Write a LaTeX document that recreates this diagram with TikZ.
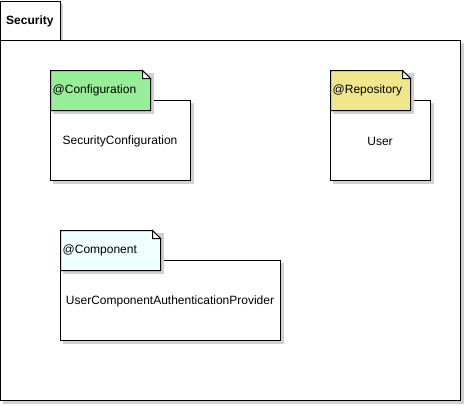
\documentclass[tikz,border=0pt]{standalone}
\usepackage{fontspec}
\setmainfont{Liberation Sans}
\begin{document}
\begin{tikzpicture}[x=1pt,y=-1pt,
  outline/.style={draw=black,line width=1pt},
  shade/.style={fill=black!18,draw=none},
  lbl/.style={inner sep=0pt,font=\fontsize{12}{14}\selectfont},
]
\useasboundingbox (0,0) rectangle (465,405);
% package
\fill[shade] (3,4) rectangle (63,40);
\draw[outline,fill=white] (0.5,1) rectangle (60.5,40.5);
\fill[shade] (3,43) rectangle (464,404);
\draw[outline,fill=white] (0.5,40.5) rectangle (460.5,400.5);
\node[lbl,font=\fontsize{12}{14}\selectfont\bfseries,anchor=west] (pkg) at (6,21) {Security};
% SecurityConfiguration
\fill[shade] (53,103) rectangle (194,184);
\draw[outline,fill=white] (50.5,100.5) rectangle (190.5,180.5);
\fill[shade] (53,73) rectangle (154,114);
\draw[outline,fill={rgb,255:red,152;green,238;blue,152}] (50.5,70.5) -- (142.5,70.5) -- (150.5,78.5) -- (150.5,110.5) -- (50.5,110.5) -- cycle;
\draw[outline,fill=white] (142.5,70.5) -- (150.5,78.5) -- (142.5,78.5) -- cycle;
\node[lbl,anchor=west] (cfgst) at (52.5,90) {@Configuration};
\node[lbl] (cfg) at (120,141) {SecurityConfiguration};
% User
\fill[shade] (333,103) rectangle (434,184);
\draw[outline,fill=white] (330.5,100.5) rectangle (430.5,180.5);
\fill[shade] (333,73) rectangle (414,114);
\draw[outline,fill={rgb,255:red,240;green,230;blue,140}] (330.5,70.5) -- (402.5,70.5) -- (410.5,78.5) -- (410.5,110.5) -- (330.5,110.5) -- cycle;
\draw[outline,fill=white] (402.5,70.5) -- (410.5,78.5) -- (402.5,78.5) -- cycle;
\node[lbl,anchor=west] (usrst) at (332.5,90) {@Repository};
\node[lbl] (usr) at (380,141) {User};
% UserComponentAuthenticationProvider
\fill[shade] (63,263) rectangle (284,344);
\draw[outline,fill=white] (60.5,260.5) rectangle (280.5,340.5);
\fill[shade] (63,233) rectangle (164,274);
\draw[outline,fill={rgb,255:red,240;green,255;blue,255}] (60.5,230.5) -- (152.5,230.5) -- (160.5,238.5) -- (160.5,270.5) -- (60.5,270.5) -- cycle;
\draw[outline,fill=white] (152.5,230.5) -- (160.5,238.5) -- (152.5,238.5) -- cycle;
\node[lbl,anchor=west] (prvst) at (62.5,250) {@Component};
\node[lbl] (prv) at (170,301) {UserComponentAuthenticationProvider};
\end{tikzpicture}
\end{document}
